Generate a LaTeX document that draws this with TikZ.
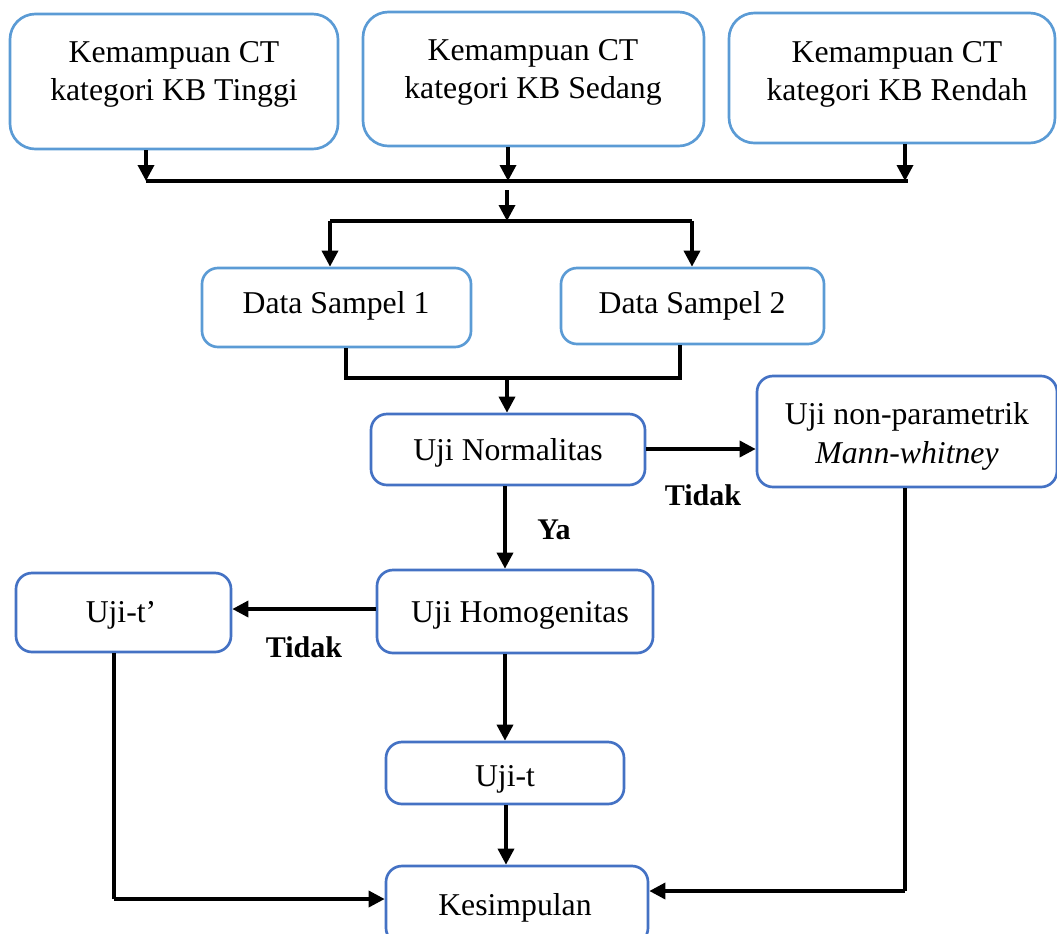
\documentclass[tikz,border=0pt]{standalone}
\usepackage{fontspec}
\setmainfont{Liberation Serif}
\usetikzlibrary{arrows.meta,fit}
\definecolor{lightedge}{HTML}{5B9BD5}
\definecolor{darkedge}{HTML}{4472C4}
\begin{document}
\begin{tikzpicture}[x=0.75pt,y=-0.75pt,
  box/.style={draw=#1, line width=2pt, rounded corners=12pt, inner sep=0pt},
  bigbox/.style={box=#1, rounded corners=19pt},
  txt/.style={align=center, inner sep=0pt, yshift=-2.5pt, font=\fontsize{23.8}{28.8}\selectfont},
  lbl/.style={inner sep=0pt, font=\fontsize{22.5}{26}\selectfont\bfseries},
  ln/.style={line width=2.6pt},
  bus/.style={line width=3.4pt},
  arr/.style={line width=2.6pt, -{Triangle[length=12pt,width=12pt]}}]
\useasboundingbox (0,0) rectangle (1057,933);

% ---- top row: the three ability groups
\node[bigbox=lightedge, fit={(10,14)(338,149)}] (t1) {};
\node[bigbox=lightedge, fit={(363,12)(704,146)}] (t2) {};
\node[bigbox=lightedge, fit={(729,13)(1055,143)}] (t3) {};
\node[txt] (t1txt) at (174,71) {Kemampuan CT\\kategori KB Tinggi};
\node[txt] (t2txt) at (533,69) {Kemampuan CT\\kategori KB Sedang};
\node[txt] (t3txt) at (897,71) {Kemampuan CT\\kategori KB Rendah};

% ---- samples
\node[box=lightedge, fit={(202,268)(471,347)}] (d1) {};
\node[box=lightedge, fit={(561,268)(824,344)}] (d2) {};
\node[txt] (d1txt) at (336,303) {Data Sampel 1};
\node[txt] (d2txt) at (692,303) {Data Sampel 2};

% ---- tests
\node[box=darkedge, fit={(371,414)(645,485)}] (nor) {};
\node[box=darkedge, fit={(757,376)(1057,487)}] (mw) {};
\node[box=darkedge, fit={(377,570)(653,653)}] (hom) {};
\node[box=darkedge, fit={(16,573)(231,652)}] (utp) {};
\node[box=darkedge, fit={(386,742)(624,804)}] (ut) {};
\node[box=darkedge, fit={(386,866)(648,944)}] (kes) {};
\node[txt] (nortxt) at (508,450) {Uji Normalitas};
\node[txt] (mwtxt) at (907,433) {Uji non-parametrik\\\textit{Mann-whitney}};
\node[txt] (homtxt) at (520,612) {Uji Homogenitas};
\node[txt] (utptxt) at (121,612) {Uji-t’};
\node[txt] (uttxt) at (505,776) {Uji-t};
\node[txt] (kestxt) at (515,905) {Kesimpulan};

% ---- junction points
\coordinate (h1) at (146,181);
\coordinate (h2) at (508,181);
\coordinate (h3) at (905,181);
\coordinate (h4) at (908,181);
\coordinate (m0) at (507,190);
\coordinate (m1) at (507,221);
\coordinate (bl) at (330,221);
\coordinate (br) at (692,221);
\coordinate (s1) at (346,378);
\coordinate (s2) at (680,378);
\coordinate (s0) at (507,378);
\coordinate (c1) at (114,899);
\coordinate (c2) at (905,891);

% ---- merge of the three groups
\draw[arr] (t1.south -| h1) -- (h1);
\draw[arr] (t2.south -| h2) -- (h2);
\draw[arr] (t3.south -| h3) -- (h3);
\draw[bus] (h1) -- (h4);
\draw[arr] (m0) -- (m1);
\draw[bus] (bl) -- (br);
\draw[arr] (bl) -- (bl |- d1.north);
\draw[arr] (br) -- (br |- d2.north);

% ---- samples into normality test
\draw[ln] (d1.south -| s1) -- (s1) -- (s2) -- (d2.south -| s2);
\draw[arr] (s0) -- (s0 |- nor.north);

% ---- decision branches
\draw[arr] (nor.east |- 0,449) -- (mw.west |- 0,449);
\node[lbl] (tidak1) at (703,495) {Tidak};
\draw[arr] (nor.south -| 505,0) -- (hom.north -| 505,0);
\node[lbl] (ya) at (554,530) {Ya};
\draw[arr] (hom.west |- 0,609) -- (utp.east |- 0,609);
\node[lbl] (tidak2) at (304,647) {Tidak};
\draw[arr] (hom.south -| 505,0) -- (ut.north -| 505,0);

% ---- all paths to the conclusion
\draw[arr] (ut.south -| 506,0) -- (kes.north -| 506,0);
\draw[ln] (utp.south -| c1) -- (c1);
\draw[arr] (c1) -- (kes.west |- c1);
\draw[ln] (mw.south -| c2) -- (c2);
\draw[arr] (c2) -- (kes.east |- c2);
\end{tikzpicture}
\end{document}
